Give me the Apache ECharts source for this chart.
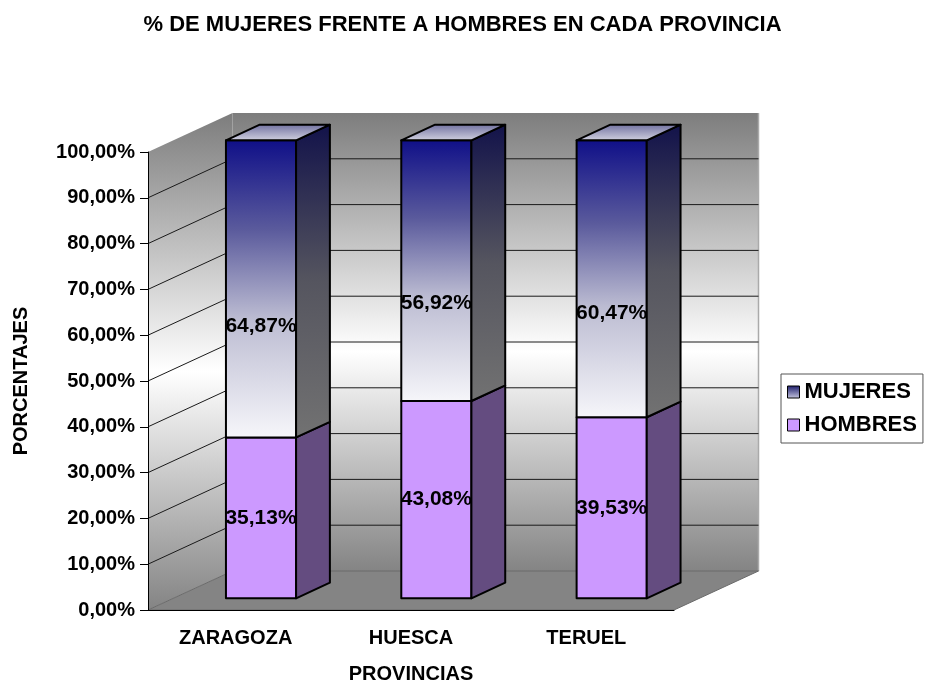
<!DOCTYPE html>
<html>
<head>
<meta charset="utf-8">
<title>% de mujeres frente a hombres</title>
<script src="https://cdn.jsdelivr.net/npm/echarts@6/dist/echarts.min.js"></script>
<style>
html, body { margin: 0; padding: 0; background: #fff; }
#chart { width: 925px; height: 684px; }
</style>
</head>
<body>
<div id="chart"></div>
<script>
// datos
const provincias = ['ZARAGOZA', 'HUESCA', 'TERUEL'];
const hombres = [35.13, 43.08, 39.53];
const mujeres = [64.87, 56.92, 60.47];
const yTicks = [0, 10, 20, 30, 40, 50, 60, 70, 80, 90, 100];

const FONT = '"Liberation Sans", Arial, sans-serif';
// profundidad de la caja 3D (px) y posicion de las barras dentro de ella
const DX = 84.5, DY = -39;
const BAR_FRONT = 0.3, BAR_BACK = 0.7, BAR_W = 0.4;

function pct(v) {
	return v.toFixed(2).replace('.', ',') + '%';
}

function vgrad(stops) {
	return {
		type: 'linear', x: 0, y: 0, x2: 0, y2: 1,
		colorStops: stops.map(s => ({ offset: s[0], color: s[1] }))
	};
}

const wallFill = () => vgrad([[0, '#7d7d7d'], [0.52, '#ffffff'], [1, '#848484']]);
const mujFront = () => vgrad([[0, '#0f0f88'], [0.3, '#5a5a9c'], [0.6, '#bcbcd2'], [1, '#f6f6fa']]);
const mujSide = () => vgrad([[0, '#12124a'], [0.5, '#55555f'], [1, '#727272']]);
const mujTop = () => vgrad([[0, '#6e6e9e'], [1, '#d4d4e2']]);

// paredes, suelo y lineas de division
function renderWalls(params, api) {
	const cs = params.coordSys;
	const x0 = cs.x, x1 = cs.x + cs.width;
	const yB = api.coord([0, 0])[1];
	const yT = api.coord([0, 100])[1];
	const children = [
		{ type: 'polygon', shape: { points: [[x0 + DX, yT + DY], [x1 + DX, yT + DY], [x1 + DX, yB + DY], [x0 + DX, yB + DY]] },
			style: { fill: wallFill() } },
		{ type: 'line', shape: { x1: x1 + DX, y1: yT + DY, x2: x1 + DX, y2: yB + DY },
			style: { stroke: '#aaaaaa', lineWidth: 1.5 } },
		{ type: 'polygon', shape: { points: [[x0, yT], [x0 + DX, yT + DY], [x0 + DX, yB + DY], [x0, yB]] },
			style: { fill: wallFill() } },
		{ type: 'polygon', shape: { points: [[x0, yB], [x1, yB], [x1 + DX, yB + DY], [x0 + DX, yB + DY]] },
			style: { fill: '#848484', stroke: '#6a6a6a', lineWidth: 1 } }
	];
	yTicks.forEach(v => {
		if (v === 0 || v === 100) return;
		const y = api.coord([0, v])[1];
		children.push({ type: 'polyline', shape: { points: [[x0, y], [x0 + DX, y + DY], [x1 + DX, y + DY]] },
			style: { stroke: '#1a1a1a', lineWidth: 1, fill: null } });
	});
	return { type: 'group', children: children };
}

function geom(api) {
	const idx = api.value(0);
	const c0 = api.coord([idx, api.value(1)]);
	const c1 = api.coord([idx, api.value(2)]);
	const w = api.size([1, 0])[0] * BAR_W;
	return {
		fx: c0[0] - w / 2 + BAR_FRONT * DX,
		w: w,
		fb: c0[1] + BAR_FRONT * DY,
		ft: c1[1] + BAR_FRONT * DY,
		bdx: (BAR_BACK - BAR_FRONT) * DX,
		bdy: (BAR_BACK - BAR_FRONT) * DY
	};
}

function makeBar(frontFill, sideFill, topFill, labelPos) {
	return function (params, api) {
		const g = geom(api);
		const fr = g.fx + g.w;
		const line = { stroke: '#000', lineWidth: 2, lineJoin: 'round' };
		const children = [
			{ type: 'rect', shape: { x: g.fx, y: g.ft, width: g.w, height: g.fb - g.ft },
				style: Object.assign({ fill: frontFill() }, line) },
			{ type: 'polygon', shape: { points: [[fr, g.ft], [fr + g.bdx, g.ft + g.bdy], [fr + g.bdx, g.fb + g.bdy], [fr, g.fb]] },
				style: Object.assign({ fill: sideFill() }, line) }
		];
		if (topFill) {
			children.push({ type: 'polygon',
				shape: { points: [[g.fx, g.ft], [fr, g.ft], [fr + g.bdx, g.ft + g.bdy], [g.fx + g.bdx, g.ft + g.bdy]] },
				style: Object.assign({ fill: topFill() }, line) });
		}
		children.push({ type: 'text', x: g.fx + g.w / 2, y: g.fb + (g.ft - g.fb) * labelPos,
			style: { text: pct(api.value(3)), align: 'center', verticalAlign: 'middle',
				fontFamily: FONT, fontWeight: 'bold', fontSize: 21, fill: '#000' } });
		return { type: 'group', children: children };
	};
}

const hombresData = provincias.map((p, i) => [i, 0, hombres[i], hombres[i]]);
const mujeresData = provincias.map((p, i) => [i, hombres[i], hombres[i] + mujeres[i], mujeres[i]]);

const chart = echarts.init(document.getElementById('chart'));
chart.setOption({
	animation: false,
	backgroundColor: '#fff',
	title: {
		text: '% DE MUJERES FRENTE A HOMBRES EN CADA PROVINCIA',
		left: 'center', top: 14, padding: 0,
		textStyle: { fontFamily: FONT, fontWeight: 'bold', fontSize: 22, color: '#000' }
	},
	legend: {
		orient: 'vertical', left: 781, top: 374,
		padding: [7, 6, 7, 6], itemGap: 11, itemWidth: 12, itemHeight: 12, icon: 'rect',
		borderColor: '#555', borderWidth: 1, backgroundColor: '#fff',
		textStyle: { fontFamily: FONT, fontWeight: 'bold', fontSize: 22, color: '#000' },
		data: [
			{ name: 'MUJERES', itemStyle: { color: vgrad([[0, '#1a1a6a'], [1, '#c8c8e0']]), borderColor: '#000', borderWidth: 1 } },
			{ name: 'HOMBRES', itemStyle: { color: '#cc99ff', borderColor: '#000', borderWidth: 1 } }
		]
	},
	grid: { left: 148, right: 251, top: 152, bottom: 74, outerBoundsMode: 'none', containLabel: false },
	xAxis: {
		type: 'category', data: provincias, z: 5,
		axisLine: { lineStyle: { color: '#000', width: 1 } },
		axisTick: { length: 8, lineStyle: { color: '#000' } },
		axisLabel: { margin: 18, fontFamily: FONT, fontWeight: 'bold', fontSize: 20, color: '#000' },
		name: 'PROVINCIAS', nameLocation: 'middle', nameGap: 54,
		nameTextStyle: { fontFamily: FONT, fontWeight: 'bold', fontSize: 20, color: '#000' }
	},
	yAxis: {
		type: 'value', min: 0, max: 100, interval: 10, z: 5,
		axisLine: { show: true, lineStyle: { color: '#000', width: 1 } },
		axisTick: { show: true, length: 8, lineStyle: { color: '#000' } },
		splitLine: { show: false },
		axisLabel: { margin: 13, formatter: pct, fontFamily: FONT, fontWeight: 'bold', fontSize: 20, color: '#000' },
		name: 'PORCENTAJES', nameLocation: 'middle', nameGap: 117, nameRotate: 90,
		nameTextStyle: { fontFamily: FONT, fontWeight: 'bold', fontSize: 20, color: '#000' }
	},
	series: [
		{ type: 'custom', name: 'paredes', z: 1, silent: true, renderItem: renderWalls,
			data: [[0, 0, 100]], encode: { x: 0, y: [1, 2] } },
		{ type: 'custom', name: 'HOMBRES', z: 2, renderItem: makeBar(() => '#cc99ff', () => '#644c80', null, 0.5),
			itemStyle: { color: '#cc99ff' }, data: hombresData, encode: { x: 0, y: [1, 2] } },
		{ type: 'custom', name: 'MUJERES', z: 2, renderItem: makeBar(mujFront, mujSide, mujTop, 0.375),
			itemStyle: { color: '#1a1a6a' }, data: mujeresData, encode: { x: 0, y: [1, 2] } }
	]
});
</script>
</body>
</html>
